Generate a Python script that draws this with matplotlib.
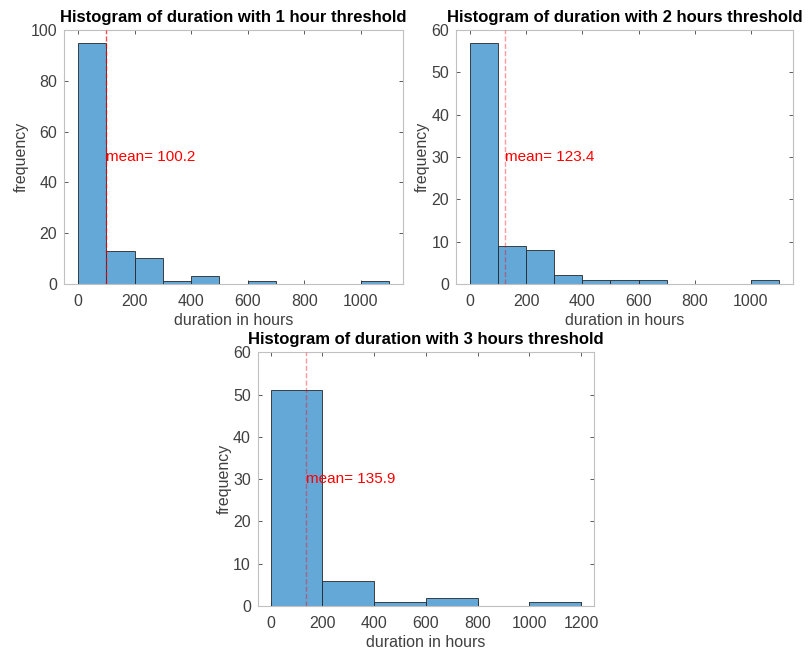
import numpy as np
import matplotlib
matplotlib.use("Agg")
import matplotlib.pyplot as plt

plt.rcParams['font.family'] = ['Liberation Sans', 'DejaVu Sans']

# histogram counts
edges_1h = [0, 100, 200, 300, 400, 500, 600, 700, 800, 900, 1000, 1100]
counts_1h = [95, 13, 10, 1, 3, 0, 1, 0, 0, 0, 1]
mean_1h = 100.2

edges_2h = [0, 100, 200, 300, 400, 500, 600, 700, 800, 900, 1000, 1100]
counts_2h = [57, 9, 8, 2, 1, 1, 1, 0, 0, 0, 1]
mean_2h = 123.4

edges_3h = [0, 200, 400, 600, 800, 1000, 1200]
counts_3h = [51, 6, 1, 2, 0, 1]
mean_3h = 135.9

titles = ["Histogram of duration with 1 hour threshold",
          "Histogram of duration with 2 hours threshold",
          "Histogram of duration with 3 hours threshold"]

fig = plt.figure(figsize=(8.08, 6.54), dpi=100)
ax1 = fig.add_axes([0.0792, 0.566, 0.4196, 0.388])
ax2 = fig.add_axes([0.5644, 0.566, 0.4170, 0.388])
ax3 = fig.add_axes([0.319, 0.0734, 0.416, 0.388])

setups = [
    (ax1, edges_1h, counts_1h, mean_1h, (-50, 1150), 100, [0, 200, 400, 600, 800, 1000], 0.7),
    (ax2, edges_2h, counts_2h, mean_2h, (-50, 1150), 60, [0, 200, 400, 600, 800, 1000], 0.4),
    (ax3, edges_3h, counts_3h, mean_3h, (-50, 1250), 60, [0, 200, 400, 600, 800, 1000, 1200], 0.4),
]

for i, (ax, edges, counts, m, xl, ymax, xt, a) in enumerate(setups):
    edges = np.array(edges)
    ax.bar(edges[:-1], counts, width=np.diff(edges), align='edge',
           color='#64a8d8', edgecolor='#262626', linewidth=0.6, zorder=2)
    ax.axvline(m, color='red', linestyle='--', linewidth=1, alpha=a, zorder=3)
    ax.text(m, ymax / 2, "mean= %.1f" % m, color='red', fontsize=11,
            va='center', ha='left', zorder=4)
    ax.set_xlim(*xl)
    ax.set_ylim(0, ymax)
    ax.set_xticks(xt)
    ax.set_title(titles[i], fontsize=12, fontweight='bold', pad=6)
    ax.set_xlabel("duration in hours", fontsize=11.5, color='#404040', labelpad=3)
    ax.set_ylabel("frequency", fontsize=11.5, color='#404040', labelpad=1)
    ax.tick_params(direction='in', top=True, right=True, labelsize=11.5,
                   colors='#404040', length=3, width=0.6)
    ax.tick_params(axis='x', pad=7)
    ax.tick_params(axis='y', pad=5)
    for s in ax.spines.values():
        s.set_color('#c0c0c0')
        s.set_linewidth(0.8)

fig.savefig("out.png", dpi=100)
